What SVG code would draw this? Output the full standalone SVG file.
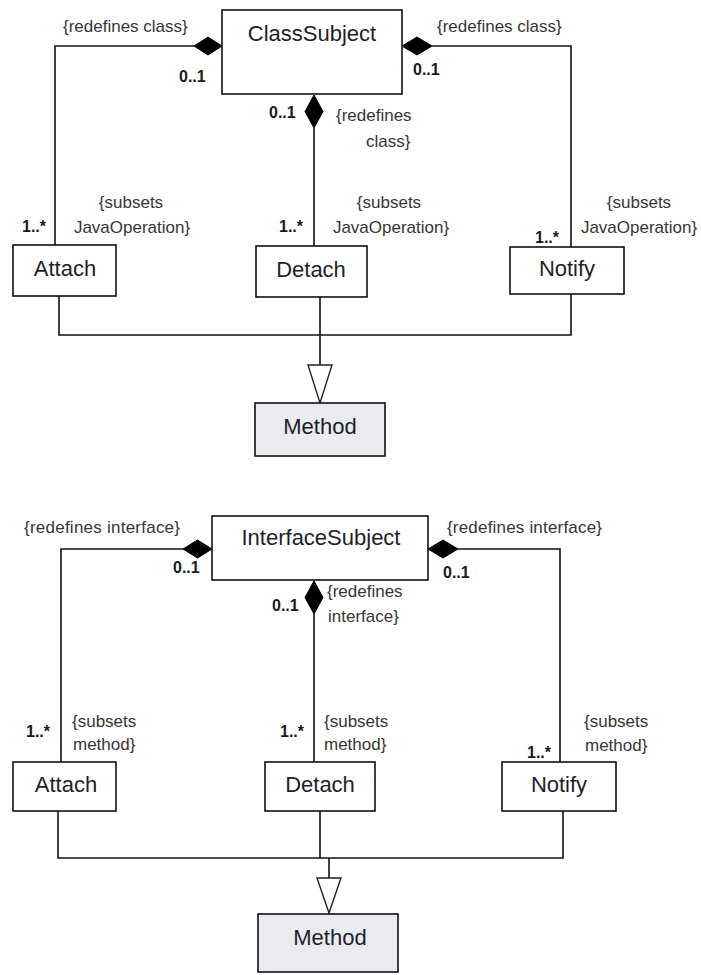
<svg xmlns="http://www.w3.org/2000/svg" width="701" height="975" viewBox="0 0 701 975">
  <style>
    .box { fill: #ffffff; stroke: #111111; stroke-width: 1.6; }
    .box.gray { fill: #e9ebf0; }
    .name { font-family: "Liberation Sans", Arial, sans-serif; font-size: 22px; fill: #1e1e2a; text-anchor: middle; }
    .line { fill: none; stroke: #111111; stroke-width: 1.6; }
    .comp { fill: #000000; stroke: #000000; stroke-width: 1; }
    .gen { fill: #ffffff; stroke: #222222; stroke-width: 1.4; }
    .lbl { font-family: "Liberation Sans", Arial, sans-serif; font-size: 17px; fill: #3a3434; }
    .mid { text-anchor: middle; }
    .mult { font-family: "Liberation Sans", Arial, sans-serif; font-size: 16px; font-weight: bold; fill: #1a1a1a; }
  </style>

  <!-- ===== Upper diagram: ClassSubject ===== -->
  <g id="connectors-class">
    <!-- composition associations -->
    <polyline class="line" points="194,46 55,46 55,245"/>
    <polygon class="comp" points="222,46 208,37 194,46 208,55"/>
    <polyline class="line" points="432,46 571,46 571,247"/>
    <polygon class="comp" points="402,46 417,37 432,46 417,55"/>
    <line class="line" x1="314" y1="128" x2="314" y2="246"/>
    <polygon class="comp" points="314,95 323,111.5 314,128 305,111.5"/>
    <!-- generalization tree -->
    <polyline class="line" points="59,296 59,335 571,335 571,294"/>
    <line class="line" x1="320" y1="297" x2="320" y2="365"/>
    <polygon class="gen" points="308,365 332,365 320,403"/>

    <text class="lbl" x="63" y="32">{redefines class}</text>
    <text class="lbl" x="437" y="32">{redefines class}</text>
    <text class="mult" x="179" y="82">0..1</text>
    <text class="mult" x="413" y="75">0..1</text>
    <text class="mult" x="269" y="118">0..1</text>
    <text class="lbl" x="336" y="121">{redefines</text>
    <text class="lbl" x="366" y="147">class}</text>

    <text class="mult" x="22" y="232">1..*</text>
    <text class="lbl mid" x="131" y="208">{subsets</text>
    <text class="lbl mid" x="132" y="233">JavaOperation}</text>
    <text class="mult" x="279" y="232">1..*</text>
    <text class="lbl mid" x="389" y="208">{subsets</text>
    <text class="lbl mid" x="391" y="233">JavaOperation}</text>
    <text class="mult" x="535" y="243">1..*</text>
    <text class="lbl mid" x="639" y="208">{subsets</text>
    <text class="lbl mid" x="639" y="233">JavaOperation}</text>
  </g>

  <g id="ClassSubject">
    <rect class="box" x="222" y="10" width="180" height="84"/>
    <text class="name" x="312" y="41">ClassSubject</text>
  </g>
  <g id="Attach-class">
    <rect class="box" x="13" y="245" width="103" height="51"/>
    <text class="name" x="65" y="276">Attach</text>
  </g>
  <g id="Detach-class">
    <rect class="box" x="256" y="246" width="111" height="51"/>
    <text class="name" x="311" y="277">Detach</text>
  </g>
  <g id="Notify-class">
    <rect class="box" x="510" y="247" width="114" height="47"/>
    <text class="name" x="567" y="276">Notify</text>
  </g>
  <g id="Method-class">
    <rect class="box gray" x="255" y="403" width="130" height="53"/>
    <text class="name" x="320" y="434">Method</text>
  </g>

  <!-- ===== Lower diagram: InterfaceSubject ===== -->
  <g id="connectors-interface">
    <polyline class="line" points="183,549 61,549 61,762"/>
    <polygon class="comp" points="212,549 197.5,540 183,549 197.5,558"/>
    <polyline class="line" points="458,549 560,549 560,762"/>
    <polygon class="comp" points="428,549 443,540 458,549 443,558"/>
    <line class="line" x1="314" y1="614" x2="314" y2="762"/>
    <polygon class="comp" points="314,581 323,597.5 314,614 305,597.5"/>
    <polyline class="line" points="58,811 58,858 563,858 563,811"/>
    <line class="line" x1="320" y1="811" x2="320" y2="858"/>
    <line class="line" x1="329" y1="858" x2="329" y2="878"/>
    <polygon class="gen" points="317,878 341,878 329,913"/>

    <text class="lbl" x="24" y="533" textLength="156">{redefines interface}</text>
    <text class="lbl" x="447" y="533" textLength="155">{redefines interface}</text>
    <text class="mult" x="173" y="573">0..1</text>
    <text class="mult" x="443" y="578">0..1</text>
    <text class="mult" x="272" y="611">0..1</text>
    <text class="lbl" x="327" y="597">{redefines</text>
    <text class="lbl" x="328" y="622">interface}</text>

    <text class="mult" x="26" y="737">1..*</text>
    <text class="lbl" x="72" y="727">{subsets</text>
    <text class="lbl" x="73" y="750">method}</text>
    <text class="mult" x="280" y="737">1..*</text>
    <text class="lbl" x="324" y="727">{subsets</text>
    <text class="lbl" x="324" y="750">method}</text>
    <text class="mult" x="527" y="758">1..*</text>
    <text class="lbl" x="584" y="727">{subsets</text>
    <text class="lbl" x="585" y="751">method}</text>
  </g>

  <g id="InterfaceSubject">
    <rect class="box" x="212" y="516" width="216" height="64"/>
    <text class="name" x="321" y="545">InterfaceSubject</text>
  </g>
  <g id="Attach-interface">
    <rect class="box" x="13" y="762" width="103" height="49"/>
    <text class="name" x="66" y="792">Attach</text>
  </g>
  <g id="Detach-interface">
    <rect class="box" x="265" y="762" width="110" height="49"/>
    <text class="name" x="320" y="792">Detach</text>
  </g>
  <g id="Notify-interface">
    <rect class="box" x="502" y="762" width="114" height="49"/>
    <text class="name" x="559" y="792">Notify</text>
  </g>
  <g id="Method-interface">
    <rect class="box gray" x="258" y="914" width="140" height="58"/>
    <text class="name" x="330" y="945">Method</text>
  </g>
</svg>
